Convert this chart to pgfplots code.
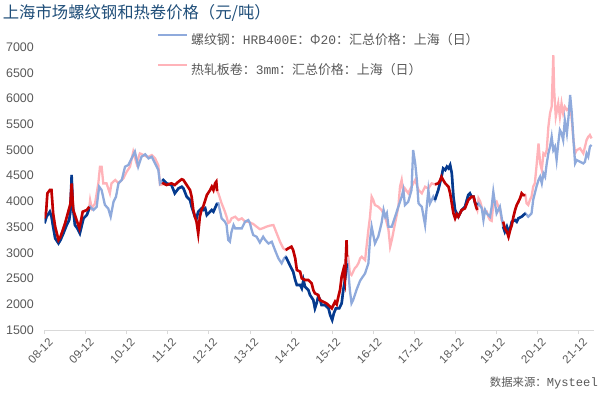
\documentclass[border=0pt]{standalone}
\usepackage{pgfplots}
\pgfplotsset{compat=1.18}
\usepackage{pgfplotstable}
\usepackage{fontspec}
\setmainfont{Liberation Sans}
\newfontfamily\cjk{Noto Sans CJK SC}
\newfontfamily\mono{Liberation Mono}
\definecolor{lblue}{HTML}{8FAADC}
\definecolor{lpink}{HTML}{FFB3B9}
\definecolor{dblue}{HTML}{053A8E}
\definecolor{dred}{HTML}{C00000}
\definecolor{titleblue}{HTML}{1F4E79}
\definecolor{labelgrey}{HTML}{595959}
\definecolor{axisgrey}{HTML}{D9D9D9}

% t = years after Dec 2008 (08-12), price in yuan/ton
\pgfplotstableread{
t v
0.00 3573
0.05 3702
0.13 3799
0.17 3702
0.21 3508
0.26 3281
0.34 3184
0.39 3249
0.46 3378
0.54 3540
0.60 3637
0.63 3800
0.66 4512
0.69 3896
0.74 3540
0.80 3475
0.86 3378
0.95 3670
1.03 3734
1.09 3864
1.11 3896
1.19 3832
1.27 3896
1.33 4285
1.39 4220
1.47 3929
1.55 3864
1.61 3702
1.68 3994
1.74 4091
1.80 4350
1.88 4415
1.96 4674
2.04 4706
2.12 4836
2.20 4965
2.28 4674
2.36 4868
2.45 4915
2.53 4836
2.61 4868
2.69 4738
2.77 4609
2.81 4350
2.87 4400
2.89 4415
2.97 4350
3.09 4318
3.17 4156
3.26 4253
3.34 4285
3.38 4253
3.46 4091
3.54 4026
3.58 3896
3.66 3702
3.70 3670
3.74 3799
3.82 3864
3.86 3832
3.91 3864
3.95 3734
4.03 3799
4.07 3832
4.11 3799
4.20 3961
4.23 3961
4.31 3670
4.39 3605
4.43 3540
4.47 3249
4.51 3216
4.55 3410
4.60 3540
4.64 3475
4.72 3475
4.80 3475
4.88 3605
4.96 3637
5.00 3573
5.04 3443
5.08 3345
5.16 3313
5.24 3200
5.32 3313
5.37 3250
5.45 3180
5.53 3216
5.61 3050
5.69 2893
5.77 2795
5.83 2893
5.87 2925
5.97 2760
6.05 2633
6.10 2472
6.14 2375
6.22 2375
6.26 2310
6.30 2472
6.34 2340
6.42 2277
6.46 2180
6.54 2083
6.58 1921
6.62 2018
6.66 2148
6.70 2100
6.74 1986
6.82 1986
6.91 1921
6.95 1792
7.00 1694
7.04 1824
7.09 1921
7.17 1921
7.23 2018
7.27 2277
7.31 2472
7.36 2795
7.39 2666
7.43 2277
7.47 2018
7.51 2083
7.59 2277
7.68 2460
7.80 2600
7.88 2795
7.92 3249
7.96 3508
8.04 3184
8.08 3250
8.12 3313
8.20 3573
8.25 3832
8.29 3702
8.33 3770
8.37 3508
8.45 3508
8.53 3702
8.61 3896
8.69 4091
8.73 4220
8.77 3929
8.85 3994
8.93 4220
8.97 4997
9.02 4738
9.06 4415
9.10 3961
9.18 3896
9.26 3540
9.30 3896
9.34 4220
9.38 3961
9.46 4091
9.50 4026
9.58 4220
9.62 4350
9.66 4479
9.70 4641
9.75 4609
9.79 4674
9.83 4641
9.87 4706
9.91 4544
9.95 4091
9.99 3832
10.03 3767
10.07 3702
10.15 3832
10.23 3896
10.31 4123
10.35 4156
10.39 4091
10.44 4091
10.48 3961
10.53 3930
10.56 3961
10.64 3864
10.68 3637
10.72 3832
10.76 3767
10.84 3702
10.88 3896
10.92 4188
10.96 3961
11.00 3767
11.04 3832
11.08 3896
11.12 3702
11.16 3508
11.20 3410
11.25 3508
11.29 3410
11.33 3475
11.37 3605
11.45 3637
11.49 3605
11.53 3670
11.61 3702
11.70 3767
11.77 3702
11.85 3767
11.89 4026
11.93 4156
11.97 4285
12.02 4415
12.06 4479
12.10 4350
12.14 4544
12.18 4479
12.22 4738
12.26 4933
12.30 5062
12.34 5256
12.38 4997
12.42 5062
12.46 4803
12.50 5127
12.54 5387
12.58 5321
12.62 5192
12.66 5580
12.71 5321
12.75 5645
12.79 6066
12.83 5710
12.87 5192
12.91 4738
12.95 4803
13.03 4770
13.11 4738
13.15 4770
13.19 4933
13.23 4868
13.27 5062
13.31 5095
}\rebar

\pgfplotstableread{
t v
0.00 3670
0.04 3800
0.07 4156
0.13 4220
0.17 4220
0.21 3767
0.26 3508
0.34 3249
0.39 3313
0.50 3573
0.60 3864
0.63 3950
0.66 4350
0.70 3832
0.78 3637
0.85 3475
0.93 3799
1.03 3832
1.09 3896
1.11 4026
1.15 3864
1.23 3961
1.31 4350
1.35 4674
1.39 4674
1.43 4350
1.51 4350
1.59 4156
1.63 4350
1.72 4415
1.80 4350
1.92 4447
2.00 4576
2.08 4674
2.16 4965
2.24 4738
2.32 4933
2.41 4900
2.49 4868
2.53 4868
2.61 4900
2.69 4836
2.77 4700
2.81 4320
2.87 4330
2.89 4350
2.97 4318
3.09 4350
3.17 4318
3.26 4383
3.34 4430
3.38 4415
3.46 4318
3.54 4220
3.58 4091
3.62 3832
3.66 3702
3.70 3600
3.74 3378
3.78 3702
3.82 3832
3.86 3896
3.90 3994
3.95 4123
4.03 4220
4.07 4285
4.11 4220
4.15 4350
4.18 4383
4.20 4200
4.23 4156
4.31 3961
4.39 3799
4.43 3700
4.47 3580
4.51 3600
4.55 3670
4.64 3702
4.72 3637
4.80 3670
4.88 3605
4.96 3605
5.04 3573
5.08 3560
5.16 3508
5.24 3460
5.32 3480
5.40 3508
5.49 3530
5.57 3540
5.65 3378
5.73 3216
5.81 3087
5.87 3054
5.93 3087
6.01 3119
6.05 3054
6.10 2893
6.14 2666
6.22 2633
6.26 2504
6.34 2472
6.42 2472
6.46 2440
6.50 2407
6.54 2277
6.58 2213
6.66 2180
6.70 2083
6.78 2050
6.86 2018
6.95 1953
6.99 1921
7.03 1986
7.07 2050
7.11 2000
7.15 2148
7.19 2277
7.23 2536
7.27 2666
7.31 2472
7.35 3248
7.36 2925
7.39 2925
7.43 2601
7.47 2569
7.55 2700
7.59 2731
7.64 2800
7.68 2893
7.72 2925
7.80 2860
7.88 3443
7.92 3702
7.96 4091
8.00 4026
8.04 3929
8.12 3896
8.20 3832
8.29 3702
8.37 3443
8.41 3119
8.45 3249
8.53 3573
8.61 3896
8.65 4285
8.69 4415
8.73 4156
8.77 4250
8.85 4156
8.93 4285
9.02 4415
9.10 4220
9.18 4156
9.26 4285
9.34 4250
9.42 4350
9.50 4330
9.58 4350
9.62 4400
9.66 4479
9.70 4415
9.75 4350
9.83 4285
9.87 4156
9.91 3961
9.95 3767
9.99 3670
10.03 3750
10.07 3702
10.15 3832
10.23 3864
10.31 4026
10.35 4059
10.39 4091
10.44 4091
10.50 3896
10.53 3832
10.56 4059
10.60 4000
10.68 3767
10.76 3800
10.80 3700
10.84 3637
10.88 3620
10.92 3961
10.96 3961
11.00 3994
11.04 3900
11.08 3864
11.12 3637
11.16 3605
11.20 3475
11.25 3410
11.29 3313
11.33 3443
11.37 3540
11.41 3702
11.45 3832
11.49 3929
11.53 3990
11.57 4059
11.61 4156
11.65 4120
11.70 4123
11.73 3961
11.77 3929
11.81 4026
11.85 4091
11.89 4285
11.93 4350
11.97 4674
12.02 5127
12.06 4738
12.10 4609
12.14 4933
12.18 4900
12.22 4997
12.26 5451
12.30 5710
12.34 5839
12.38 6843
12.40 6163
12.44 5645
12.50 5904
12.54 5645
12.58 5904
12.62 5710
12.66 5839
12.71 5775
12.75 5800
12.79 5904
12.83 5580
12.87 5192
12.91 4933
12.95 4997
13.03 5030
13.11 4933
13.15 5062
13.19 5192
13.23 5256
13.27 5290
13.31 5224
}\hrc

\begin{document}
\begin{tikzpicture}
\useasboundingbox (-44.5bp,-63bp) rectangle (555.5bp,330bp);
\begin{axis}[
  scale only axis, width=549.5bp, height=283bp,
  xmin=0, xmax=13.37, ymin=1500, ymax=7000,
  axis x line*=bottom, axis y line*=left,
  x axis line style={-, draw=axisgrey, line width=0.9bp},
  y axis line style={draw=none},
  ytick={1500,2000,...,7000},
  ytick style={draw=none},
  xtick={0,1,...,13},
  xticklabels={08-12,09-12,10-12,11-12,12-12,13-12,14-12,15-12,16-12,17-12,18-12,19-12,20-12,21-12},
  xtick style={draw=axisgrey, line width=0.9bp},
  tick align=outside, major tick length=4bp,
  scaled y ticks=false,
  /pgf/number format/1000 sep={},
  /pgf/number format/assume math mode=true,
  yticklabel style={font=\fontsize{12.5}{14}\selectfont, text=labelgrey, anchor=east, inner sep=0pt, xshift=-6.5bp},
  xticklabel style={font=\fontsize{11.5}{13}\selectfont, text=labelgrey, rotate=45, anchor=east, inner sep=0pt, yshift=-9bp},
  legend style={at={(axis description cs:0.2047,1.051)}, anchor=north west, draw=none, fill=none,
    inner sep=0pt, row sep=16.5bp, column sep=2.6bp,
    nodes={inner sep=0pt, text height=11.5bp, text depth=2bp, text=labelgrey,
      font=\cjk\fontsize{13}{15}\selectfont}},
  legend cell align=left,
  legend image code/.code={\draw[#1] (0bp,4.7bp) -- (29bp,4.7bp);},
]
\addlegendimage{color=lblue, line width=2.3bp}
\addlegendentry{螺纹钢：{\mono\fontsize{13}{15}\selectfont HRB400E}：Φ{\mono\fontsize{13}{15}\selectfont 20}：汇总价格：上海（日）}
\addlegendimage{color=lpink, line width=2.3bp}
\addlegendentry{热轧板卷：{\mono\fontsize{13}{15}\selectfont 3mm}：汇总价格：上海（日）}

\addplot[forget plot, color=lpink, line width=2.3bp] table[x=t,y=v] {\hrc};
\addplot[forget plot, color=lblue, line width=2.3bp] table[x=t,y=v] {\rebar};

\addplot[forget plot, color=dblue, line width=2.6bp, restrict x to domain=-0.01:1.095] table[x=t,y=v] {\rebar};
\addplot[forget plot, color=dblue, line width=2.6bp, restrict x to domain=2.865:4.205] table[x=t,y=v] {\rebar};
\addplot[forget plot, color=dblue, line width=2.6bp, restrict x to domain=5.865:7.365] table[x=t,y=v] {\rebar};
\addplot[forget plot, color=dblue, line width=2.6bp, restrict x to domain=9.495:10.535] table[x=t,y=v] {\rebar};
\addplot[forget plot, color=dblue, line width=2.6bp, restrict x to domain=11.155:11.705] table[x=t,y=v] {\rebar};

\addplot[forget plot, color=dred, line width=2.6bp, restrict x to domain=-0.01:1.095] table[x=t,y=v] {\hrc};
\addplot[forget plot, color=dred, line width=2.6bp, restrict x to domain=2.865:4.205] table[x=t,y=v] {\hrc};
\addplot[forget plot, color=dred, line width=2.6bp, restrict x to domain=5.865:7.365] table[x=t,y=v] {\hrc};
\addplot[forget plot, color=dred, line width=2.6bp, restrict x to domain=9.495:10.535] table[x=t,y=v] {\hrc};
\addplot[forget plot, color=dred, line width=2.6bp, restrict x to domain=11.155:11.705] table[x=t,y=v] {\hrc};
\end{axis}
\node[anchor=base west, inner sep=0pt, text=titleblue, font=\cjk\fontsize{16.4}{18}\selectfont] at (-41.8bp,311.3bp) {上海市场螺纹钢和热卷价格（元/吨）};
\node[anchor=base east, inner sep=0pt, text=labelgrey, font=\cjk\fontsize{11.4}{15}\selectfont] at (553.5bp,-56bp) {数据来源：{\mono\fontsize{12.2}{15}\selectfont Mysteel}};
\end{tikzpicture}
\end{document}
